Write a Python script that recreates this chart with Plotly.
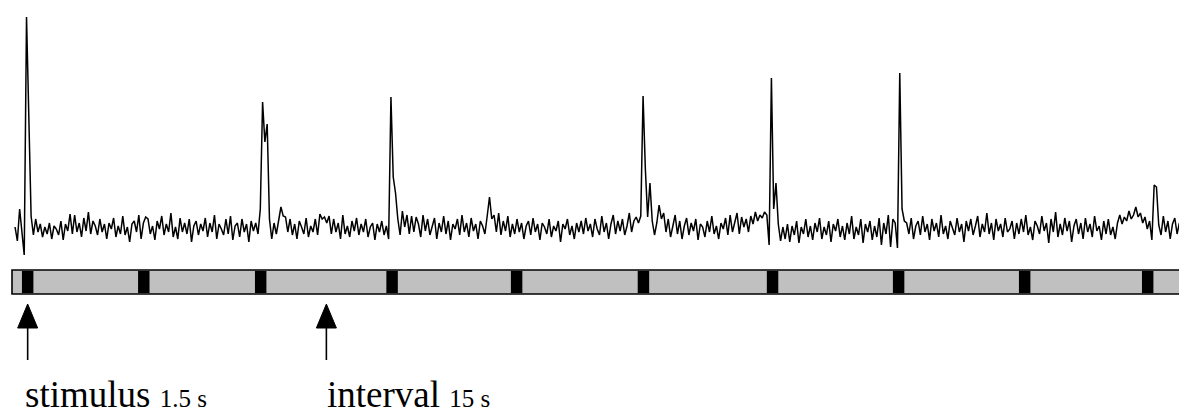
import numpy as np
import plotly.graph_objects as go

# ---------------- data ----------------
# recorded trace (arbitrary units, baseline ~0), sampled every 0.3 s from t = 0.4 s
SAMPLE_T0 = 0.4
SAMPLE_DT = 0.3

trace_start = [2, -12, 20, -4, -26, 212, 126]
trace_cycle1 = [13, -6, 10, -3, 5, -8, 2, -5, 6, -10, 3, 0, -6, 8, -11, 5, -2, 15, -5, 14, -3, 6, -8, 11, -2,
                17, -5, 8, 3, -6, 10, -3, 5, -10, 6, 0, 11, -8, 3, -5, 13, -6, 2, -13, 5, 8, -3, 14, -10, 6,
                12, 10, -5, 3, -11, 8, 0, 13, -6, 5, -3, 16, -8, 2, -10, 11, -3, 6, -5, 10, -13, 3, 8, -6, 5,
                -2, 11, -8, 6, -3, 14, -10, 5, 0, -6, 10, -5, 13, -11, 3, 6, -8, 10, -3, 5, -13, 8, -2, 6, -5]
trace_resp2 = [20, 127, 87, 105, 10, -10, 6]
trace_cycle2 = [-5, 8, 22, 13, 12, -3, 10, -6, 5, -10, 8, 2, -5, 11, -8, 3, -3, 10, -6, 15, 10, 12, 6, 13, -5,
                10, -3, 6, -10, 14, -5, 3, -8, 8, -2, 11, -6, 5, -3, 10, -8, 2, 6, -11, 5, -3, 8, -6, 3, -10]
trace_resp3 = [132, 52, 36, 10, -6, 18, 2, 14]
trace_cycle3 = [-5, 13, -3, 12, 5, -8, 14, -2, 10, -6, 3, 11, -10, 6, -3, 13, -5, 8, -11, 5, 0, 10, -6, 14, -3,
                6, -8, 11, -2, 5, -10, 8, 3, -5, 13, 32, 10, 14, -3, 16, -6, 8, -2, 13, -8, 5, -5, 10, -3, 6,
                -10, 3, 8, -6, 11, -3, 5, -11, 6, 2, -5, 10, -8, 3, -2, 8, -13, 5, 0, 10, -6, 3, -10, 6, -3,
                8, -5, 11, -2, 5, -8, 10, 0, -6, 13, -3, 6, -10, 5, 14, -5, 8, -2, 10, -6, 3, 16, -3, 8, 12,
                6, 13]
trace_resp4 = [133, 60, 12, 46, 8, -6, 6, 24, 10, 16]
trace_cycle4 = [-3, 10, -8, 5, 14, -5, 8, -10, 3, 11, -6, 6, -2, 10, -11, 5, 2, -8, 8, -3, 13, -5, 3, -10, 6,
                0, 11, -6, 14, -3, 8, 16, -5, 12, 2, 10, -3, 13, 5, 17, 8, 14, 11, 17, 14]
trace_resp5 = [-16, 151, 20, 46, 5, -12, 2]
trace_cycle5 = [-10, 5, -13, 3, -6, 8, -14, 2, -5, 10, -8, 3, -11, 6, -3, 11, -10, 2, -6, 8, -13, 5, -2, 10, -8,
                3, -11, 6, -5, 13, -10, 2, -6, 10, -14, 5, -3, 8, -11, 3, -8, 11, -16, 6, -5, 14, -18, 10, 6]
trace_resp6 = [-19, 156, 20, 8]
trace_cycle6 = [6, -5, 11, -10, 3, 8, -6, 13, -3, 5, -11, 10, -2, 6, -8, 14, -5, 3, -10, 8, 0, -6, 11, -3, 5,
                -13, 8, -2, 10, -6, 3, 13, -8, 5, -3, 16, -5, 6, -11, 10, -2, 5, -8, 11, -3, 0, 8, -10, 6, -5,
                10, -3, 14, -6, 2, -11, 8, 3, -5, 13, -2, 6, -14, 10, -3, 17, -8, 5, -6, 11, -2, 8, -13, 3, 10,
                -5, 6, -10, 11, -3, 5, -8, 13, -2, 3, -11, 8, -5, 10, -6, 2, -10, 6, 14, 5, 12, 8, 18, 10, 14,
                22, 12, 16, 6, 12, 0, 8]
trace_resp7 = [-11, 44, 42, 4]
trace_end = [-6, 13, -3, 8, -10, 5, 11, -5, 6]

# stimulus onsets (s) and duration (s)
stim_onsets = [1.3, 16.5, 31.8, 49.0, 65.3, 81.9, 98.8, 115.3, 131.8, 147.9]
stim_duration = 1.5
protocol_start = 0.0

labels = [("stimulus", "1.5 s"), ("interval", "15 s")]

# --------------- figure ---------------
trace_vals = (trace_start + trace_cycle1 + trace_resp2 + trace_cycle2 + trace_resp3 +
              trace_cycle3 + trace_resp4 + trace_cycle4 + trace_resp5 + trace_cycle5 +
              trace_resp6 + trace_cycle6 + trace_resp7 + trace_end)
trace_t = SAMPLE_T0 + SAMPLE_DT * np.arange(len(trace_vals))

W, H = 1179, 416
X_RANGE = [-1.571, 152.75]
Y_RANGE = [-187, 229]

def py(px):  # pixel row -> paper fraction
    return 1 - px / H

fig = go.Figure()
fig.add_trace(go.Scatter(x=trace_t, y=trace_vals, mode="lines",
                         line=dict(color="black", width=1.5), hoverinfo="skip"))

shapes = []
# protocol bar
shapes.append(dict(type="rect", xref="x", yref="paper", x0=protocol_start, x1=X_RANGE[1] + 5,
                   y0=py(294), y1=py(270), fillcolor="#c0c0c0",
                   line=dict(color="black", width=1.6), layer="above"))
for on in stim_onsets:
    shapes.append(dict(type="rect", xref="x", yref="paper", x0=on, x1=on + stim_duration,
                       y0=py(293), y1=py(271), fillcolor="black", line=dict(width=0), layer="above"))

# arrows: first stimulus, and middle of the interval between stimuli 3 and 4
arrow_x = [stim_onsets[0] + stim_duration / 2,
           (stim_onsets[2] + stim_duration + stim_onsets[3]) / 2]
for ax in arrow_x:
    shapes.append(dict(type="line", xref="x", yref="paper", x0=ax, x1=ax,
                       y0=py(360), y1=py(322), line=dict(color="black", width=1.6)))
    shapes.append(dict(type="path", xref="x", yref="paper", xsizemode="pixel", xanchor=ax,
                       path=f"M -10,{py(328)} L 10,{py(328)} L 0,{py(304)} Z",
                       fillcolor="black", line=dict(color="black", width=1)))
fig.update_layout(shapes=shapes)

for (big, small), ax, shift in zip(labels, arrow_x, [-4, 0]):
    fig.add_annotation(x=ax, y=py(416), xref="x", yref="paper", xanchor="left", yanchor="bottom",
                       xshift=shift, showarrow=False,
                       text=f"{big} <span style='font-size:25px'>{small}</span>",
                       font=dict(family="Liberation Serif, Times New Roman, serif", size=37, color="black"),
                       borderpad=0)

fig.update_layout(width=W, height=H, margin=dict(l=0, r=0, t=0, b=0),
                  paper_bgcolor="white", plot_bgcolor="white", showlegend=False,
                  xaxis=dict(range=X_RANGE, visible=False, fixedrange=True),
                  yaxis=dict(range=Y_RANGE, visible=False, fixedrange=True))
fig.write_html("out.html", config={"displayModeBar": False},
               post_script="document.body.style.margin='0';document.body.style.overflow='hidden';")
